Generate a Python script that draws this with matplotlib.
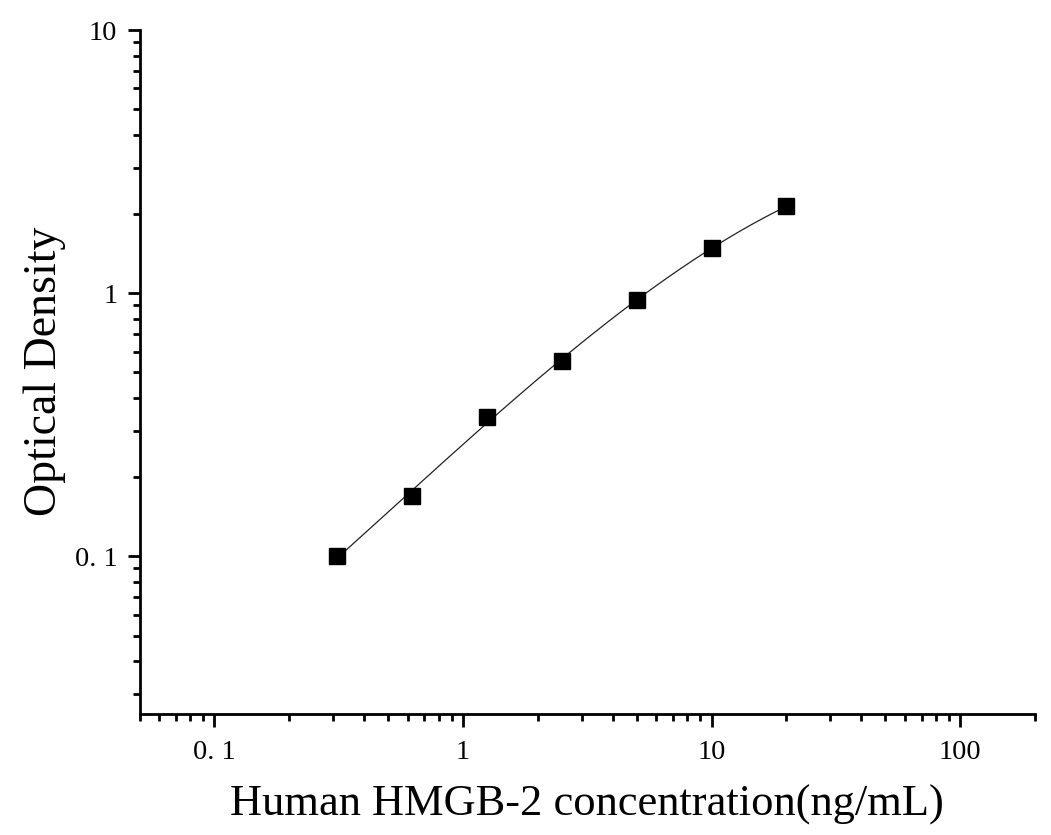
import numpy as np
import matplotlib
matplotlib.use("Agg")
import matplotlib.pyplot as plt
from matplotlib.ticker import LogLocator, FixedLocator, FixedFormatter, NullFormatter

# Data
concentration = [0.3125, 0.625, 1.25, 2.5, 5, 10, 20]
optical_density = [0.100, 0.170, 0.340, 0.551, 0.941, 1.479, 2.142]
x_tick_values = [0.1, 1, 10, 100]
x_tick_labels = ["0. 1", "1", "10", "100"]
y_tick_values = [0.1, 1, 10]
y_tick_labels = ["0. 1", "1", "10"]
x_label = "Human HMGB-2 concentration(ng/mL)"
y_label = "Optical Density"

plt.rcParams['font.family'] = ['Liberation Serif', 'DejaVu Serif']

fig = plt.figure(figsize=(10.51, 8.35), dpi=100)
ax = fig.add_axes([139.5/1051, 1 - 713.5/835, (1035 - 139.5)/1051, (713.5 - 30)/835])

# smooth fitted curve in log-log space
lx = np.log10(concentration)
ly = np.log10(optical_density)
coef = np.polyfit(lx, ly, 3)
xs = np.linspace(lx.min(), lx.max(), 300)
ax.plot(10**xs, 10**np.polyval(coef, xs), color='#222222', lw=0.9, zorder=2)
ax.plot(concentration, optical_density, ls='none', marker='s', ms=11.5,
        color='black', mec='black', zorder=3)

ax.set_xscale('log')
ax.set_yscale('log')
ax.set_xlim(0.05, 200)
ax.set_ylim(0.0253, 10)

ax.xaxis.set_major_locator(FixedLocator(x_tick_values))
ax.xaxis.set_major_formatter(FixedFormatter(x_tick_labels))
ax.yaxis.set_major_locator(FixedLocator(y_tick_values))
ax.yaxis.set_major_formatter(FixedFormatter(y_tick_labels))
ax.xaxis.set_minor_locator(LogLocator(base=10, subs=np.arange(2, 10), numticks=20))
ax.yaxis.set_minor_locator(LogLocator(base=10, subs=np.arange(2, 10), numticks=20))
ax.xaxis.set_minor_formatter(NullFormatter())
ax.yaxis.set_minor_formatter(NullFormatter())

for s in ['top', 'right']:
    ax.spines[s].set_visible(False)
for s in ['left', 'bottom']:
    ax.spines[s].set_linewidth(2.0)
    ax.spines[s].set_color('black')

ax.tick_params(which='major', direction='out', length=9, width=2.0, labelsize=20.5,
               colors='black', pad=7)
ax.tick_params(which='minor', direction='out', length=5, width=2.0)
ax.tick_params(axis='x', which='major', pad=10)

ax.set_xlabel(x_label, fontsize=32, labelpad=14)
ax.set_ylabel(y_label, fontsize=33, labelpad=6)

fig.savefig('out.png', dpi=100, facecolor='white')
